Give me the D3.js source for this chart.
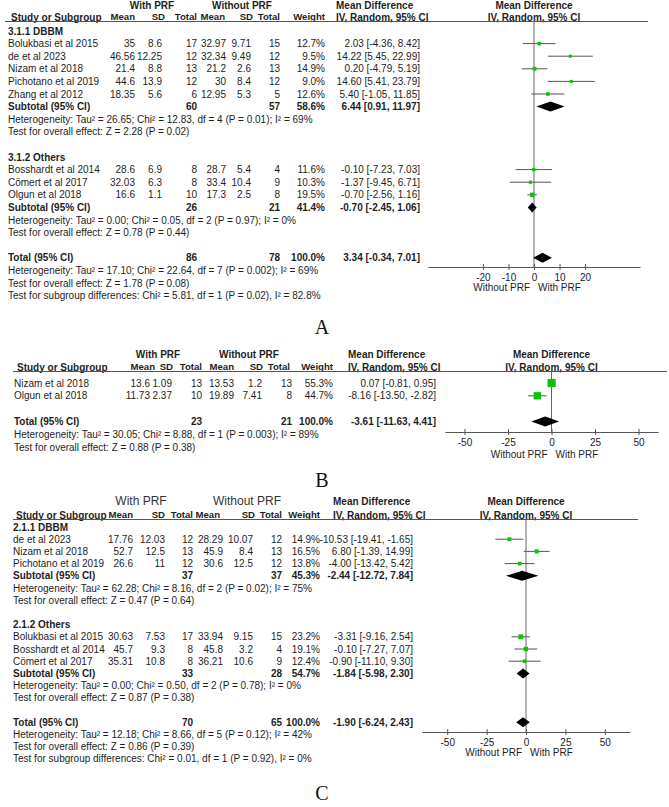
<!DOCTYPE html>
<html>
<head>
<meta charset="utf-8">
<script src="https://cdn.jsdelivr.net/npm/d3@7"></script>
<style>
  body { margin: 0; background: #fff; }
  text { font-family: "Liberation Sans", Arial, sans-serif; font-size: 10px; fill: #1e1e1e; }
</style>
</head>
<body>
<svg id="chart" width="669" height="807"></svg>
<script>
/* Data: [study, mean1, sd1, n1, mean2, sd2, n2, weight, md, lo, hi] */
const dbbmA = [
  ["Bolukbasi et al 2015", "35", "8.6", 17, "32.97", "9.71", 15, 12.7, 2.03, -4.36, 8.42],
  ["de et al 2023", "46.56", "12.25", 12, "32.34", "9.49", 12, 9.5, 14.22, 5.45, 22.99],
  ["Nizam et al 2018", "21.4", "8.8", 13, "21.2", "2.6", 13, 14.9, 0.2, -4.79, 5.19],
  ["Pichotano et al 2019", "44.6", "13.9", 12, "30", "8.4", 12, 9.0, 14.6, 5.41, 23.79],
  ["Zhang et al 2012", "18.35", "5.6", 6, "12.95", "5.3", 5, 12.6, 5.4, -1.05, 11.85]
];
const othersA = [
  ["Bosshardt et al 2014", "28.6", "6.9", 8, "28.7", "5.4", 4, 11.6, -0.1, -7.23, 7.03],
  ["Cömert et al 2017", "32.03", "6.3", 8, "33.4", "10.4", 9, 10.3, -1.37, -9.45, 6.71],
  ["Olgun et al 2018", "16.6", "1.1", 10, "17.3", "2.5", 8, 19.5, -0.7, -2.56, 1.16]
];
/* [label, n1, n2, weight, md, lo, hi] */
const subtotalsA = [
  ["Subtotal (95% CI)", 60, 57, 58.6, 6.44, 0.91, 11.97],
  ["Subtotal (95% CI)", 26, 21, 41.4, -0.70, -2.45, 1.06]
];
const totalA = ["Total (95% CI)", 86, 78, 100.0, 3.34, -0.34, 7.01];
const statsA = [
  "Heterogeneity: Tau² = 26.65; Chi² = 12.83, df = 4 (P = 0.01); I² = 69%",
  "Test for overall effect: Z = 2.28 (P = 0.02)",
  "Heterogeneity: Tau² = 0.00; Chi² = 0.05, df = 2 (P = 0.97); I² = 0%",
  "Test for overall effect: Z = 0.78 (P = 0.44)",
  "Heterogeneity: Tau² = 17.10; Chi² = 22.64, df = 7 (P = 0.002); I² = 69%",
  "Test for overall effect: Z = 1.78 (P = 0.08)",
  "Test for subgroup differences: Chi² = 5.81, df = 1 (P = 0.02), I² = 82.8%"
];
const ticksA = [-20, -10, 0, 10, 20];

const studiesB = [
  ["Nizam et al 2018", "13.6", "1.09", 13, "13.53", "1.2", 13, 55.3, 0.07, -0.81, 0.95],
  ["Olgun et al 2018", "11.73", "2.37", 10, "19.89", "7.41", 8, 44.7, -8.16, -13.5, -2.82]
];
const totalB = ["Total (95% CI)", 23, 21, 100.0, -3.61, -11.63, 4.41];
const statsB = [
  "Heterogeneity: Tau² = 30.05; Chi² = 8.88, df = 1 (P = 0.003); I² = 89%",
  "Test for overall effect: Z = 0.88 (P = 0.38)"
];
const ticksB = [-50, -25, 0, 25, 50];

const dbbmC = [
  ["de et al 2023", "17.76", "12.03", 12, "28.29", "10.07", 12, 14.9, -10.53, -19.41, -1.65],
  ["Nizam et al 2018", "52.7", "12.5", 13, "45.9", "8.4", 13, 16.5, 6.8, -1.39, 14.99],
  ["Pichotano et al 2019", "26.6", "11", 12, "30.6", "12.5", 12, 13.8, -4.0, -13.42, 5.42]
];
const othersC = [
  ["Bolukbasi et al 2015", "30.63", "7.53", 17, "33.94", "9.15", 15, 23.2, -3.31, -9.16, 2.54],
  ["Bosshardt et al 2014", "45.7", "9.3", 8, "45.8", "3.2", 4, 19.1, -0.1, -7.27, 7.07],
  ["Cömert et al 2017", "35.31", "10.8", 8, "36.21", "10.6", 9, 12.4, -0.9, -11.1, 9.3]
];
const subtotalsC = [
  ["Subtotal (95% CI)", 37, 37, 45.3, -2.44, -12.72, 7.84],
  ["Subtotal (95% CI)", 33, 28, 54.7, -1.84, -5.98, 2.30]
];
const totalC = ["Total (95% CI)", 70, 65, 100.0, -1.90, -6.24, 2.43];
const statsC = [
  "Heterogeneity: Tau² = 62.28; Chi² = 8.16, df = 2 (P = 0.02); I² = 75%",
  "Test for overall effect: Z = 0.47 (P = 0.64)",
  "Heterogeneity: Tau² = 0.00; Chi² = 0.50, df = 2 (P = 0.78); I² = 0%",
  "Test for overall effect: Z = 0.87 (P = 0.38)",
  "Heterogeneity: Tau² = 12.18; Chi² = 8.66, df = 5 (P = 0.12); I² = 42%",
  "Test for overall effect: Z = 0.86 (P = 0.39)",
  "Test for subgroup differences: Chi² = 0.01, df = 1 (P = 0.92), I² = 0%"
];
const ticksC = [-50, -25, 0, 25, 50];

const groupNames = ["3.1.1 DBBM", "3.1.2 Others", "2.1.1 DBBM", "2.1.2 Others"];
const panelLetters = ["A", "B", "C"];

const svg = d3.select("#chart");
const green = "#0ac40a";
const fmt = (v) => v.toFixed(2);
const ci = (r) => `${fmt(r[0])} [${fmt(r[1])}, ${fmt(r[2])}]`;

/* build the list of rows for one panel */
function buildRows(groups, subs, total, stats, names) {
  var rows = [];
  var s = 0;
  groups.forEach((g, gi) => {
    if (names) rows.push({ type: "group", label: names[gi] });
    g.forEach((d) => rows.push({ type: "study", d: d }));
    if (subs) {
      rows.push({ type: "sub", d: subs[gi] });
      rows.push({ type: "stat", label: stats[s++] });
      rows.push({ type: "stat", label: stats[s++] });
    }
    rows.push({ type: "blank" });
  });
  rows.push({ type: "sub", d: total });
  while (s < stats.length) rows.push({ type: "stat", label: stats[s++] });
  return rows;
}

function drawPanel(p) {
  var g = svg.append("g");
  var x = d3.scaleLinear().domain(p.domain).range(p.range);
  var size = d3.scaleSqrt().domain([0, 100]).range([0, p.box]);

  /* headers */
  var hdr = g.append("g");
  ["With PRF", "Without PRF"].forEach((t, i) => {
    hdr.append("text").attr("x", p.cols[i]).attr("y", p.hy1).attr("dy", "0.35em")
      .attr("text-anchor", "middle").style("font-weight", p.bigHead ? "normal" : "bold")
      .style("font-size", p.bigHead ? "12px" : "10px").style("fill", p.bigHead ? "#333" : null)
      .text(t);
  });
  hdr.append("text").attr("x", p.mdHead).attr("y", p.hy1).attr("dy", "0.35em")
    .style("font-weight", "bold").text("Mean Difference");
  hdr.append("text").attr("x", x(0)).attr("y", p.hy1).attr("dy", "0.35em")
    .attr("text-anchor", "middle").style("font-weight", "bold").text("Mean Difference");

  var heads = ["Mean", "SD", "Total", "Mean", "SD", "Total", "Weight"];
  hdr.append("text").attr("x", p.nameX + 3).attr("y", p.hy2).attr("dy", "0.35em")
    .style("font-weight", "bold").text("Study or Subgroup");
  heads.forEach((h, i) => {
    hdr.append("text").attr("x", p.hnum[i]).attr("y", p.hy2).attr("dy", "0.35em")
      .attr("text-anchor", "end").style("font-weight", "bold").style("font-size", "9.6px").text(h);
  });
  hdr.append("text").attr("x", p.mdHead).attr("y", p.hy2).attr("dy", "0.35em")
    .style("font-weight", "bold").text("IV, Random, 95% CI");
  hdr.append("text").attr("x", x(0)).attr("y", p.hy2).attr("dy", "0.35em")
    .attr("text-anchor", "middle").style("font-weight", "bold").text("IV, Random, 95% CI");
  g.append("line").attr("x1", p.lineX[0]).attr("x2", p.lineX[1])
    .attr("y1", p.hy2 + 4.5).attr("y2", p.hy2 + 4.5)
    .style("stroke", "#555").style("stroke-width", 1);

  /* zero line */
  g.append("line").attr("x1", x(0)).attr("x2", x(0))
    .attr("y1", p.hy2 + 4.5).attr("y2", p.axisY)
    .style("stroke", "#666").style("stroke-width", 1);

  /* rows */
  p.rows.forEach((r, i) => {
    var y = p.y0 + i * p.pitch;
    if (r.type === "group") {
      g.append("text").attr("x", p.nameX).attr("y", y).attr("dy", "0.35em")
        .style("font-weight", "bold").text(r.label);
    } else if (r.type === "stat") {
      g.append("text").attr("x", p.nameX).attr("y", y).attr("dy", "0.35em").text(r.label);
    } else if (r.type === "study") {
      var d = r.d;
      g.append("text").attr("x", p.nameX).attr("y", y).attr("dy", "0.35em").text(d[0]);
      [d[1], d[2], d[3], d[4], d[5], d[6], d[7].toFixed(1) + "%"].forEach((v, k) => {
        g.append("text").attr("x", p.num[k]).attr("y", y).attr("dy", "0.35em")
          .attr("text-anchor", "end").text(v);
      });
      g.append("text").attr("x", p.mdX).attr("y", y).attr("dy", "0.35em")
        .attr("text-anchor", "end").text(ci(d.slice(8)));
      g.append("line").attr("x1", x(d[9])).attr("x2", x(d[10]))
        .attr("y1", y).attr("y2", y).style("stroke", "#555").style("stroke-width", 1);
      var s = size(d[7]);
      g.append("rect").attr("x", x(d[8]) - s / 2).attr("y", y - s / 2)
        .attr("width", s).attr("height", s).style("fill", green);
    } else if (r.type === "sub") {
      var d = r.d;
      var b = g.append("g").style("font-weight", "bold");
      b.append("text").attr("x", p.nameX).attr("y", y).attr("dy", "0.35em").text(d[0]);
      b.append("text").attr("x", p.num[2]).attr("y", y).attr("dy", "0.35em")
        .attr("text-anchor", "end").text(d[1]);
      b.append("text").attr("x", p.num[5]).attr("y", y).attr("dy", "0.35em")
        .attr("text-anchor", "end").text(d[2]);
      b.append("text").attr("x", p.num[6]).attr("y", y).attr("dy", "0.35em")
        .attr("text-anchor", "end").text(d[3].toFixed(1) + "%");
      b.append("text").attr("x", p.mdX).attr("y", y).attr("dy", "0.35em")
        .attr("text-anchor", "end").text(ci(d.slice(4)));
      var h = 5;
      g.append("path")
        .attr("d", `M${x(d[5])},${y}L${x(d[4])},${y - h}L${x(d[6])},${y}L${x(d[4])},${y + h}Z`)
        .style("fill", "#000");
    }
  });

  /* axis */
  var axis = d3.axisBottom(x).tickValues(p.ticks).tickFormat((d) => String(d))
    .tickSizeOuter(0).tickSizeInner(3).tickPadding(4);
  var ax = g.append("g").attr("transform", `translate(0, ${p.axisY})`).call(axis);
  ax.attr("font-family", null).attr("font-size", null);
  ax.select(".domain").style("stroke", "#555");
  ax.selectAll(".tick line").attr("y1", -3).attr("y2", 3).style("stroke", "#555");
  ax.selectAll(".tick text").style("fill", "#222");

  g.append("text").attr("x", x(0) - 4).attr("y", p.axisY + p.labY).attr("dy", "0.35em")
    .attr("text-anchor", "end").text("Without PRF");
  g.append("text").attr("x", x(0) + 4).attr("y", p.axisY + p.labY).attr("dy", "0.35em")
    .text("With PRF");

  /* panel letter */
  svg.append("text").attr("x", 322).attr("y", p.letterY).attr("dy", "0.35em")
    .attr("text-anchor", "middle")
    .style("font-family", "'Liberation Serif', 'Times New Roman', serif")
    .style("font-size", "20px").style("fill", "#111").text(p.letter);
}

/* Panel A */
drawPanel({
  rows: buildRows([dbbmA, othersA], subtotalsA, totalA, statsA, groupNames.slice(0, 2)),
  domain: [-41.5, 41.5], range: [428, 640], ticks: ticksA, box: 10,
  cols: [152, 242],
  num: [135, 162, 197, 226, 251, 280, 325],
  hnum: [135, 165, 197, 225, 253, 280, 325],
  mdX: 420, mdHead: 336,
  nameX: 8, lineX: [5, 648], hy1: 5, hy2: 17, y0: 31, pitch: 12.6,
  axisY: 267, labY: 20, letterY: 327, letter: panelLetters[0]
});

/* Panel B */
var rowsB = studiesB.map((d) => ({ type: "study", d: d }));
rowsB.push({ type: "blank" });
rowsB.push({ type: "sub", d: totalB });
statsB.forEach((t) => rowsB.push({ type: "stat", label: t }));
drawPanel({
  rows: rowsB,
  domain: [-61.2, 61.2], range: [445, 658], ticks: ticksB, box: 11,
  cols: [158, 249],
  num: [150, 172, 202, 234, 262, 292, 333],
  hnum: [155, 173, 202, 234, 263, 290, 333],
  mdX: 436, mdHead: 348,
  nameX: 14, lineX: [13, 667], hy1: 354, hy2: 367, y0: 383, pitch: 12.8,
  axisY: 432, labY: 22, letterY: 480, letter: panelLetters[1]
});

/* Panel C */
drawPanel({
  rows: buildRows([dbbmC, othersC], subtotalsC, totalC, statsC, groupNames.slice(2, 4)),
  domain: [-66, 66], range: [422, 630], ticks: ticksC, box: 10, bigHead: true,
  cols: [141, 247],
  num: [133, 165, 193, 223, 253, 282, 320],
  hnum: [133, 165, 193, 220, 255, 282, 320],
  mdX: 413, mdHead: 333,
  nameX: 13, lineX: [13, 638], hy1: 501, hy2: 515, y0: 527, pitch: 12.2,
  axisY: 732, labY: 20, letterY: 793, letter: panelLetters[2]
});
</script>
</body>
</html>
